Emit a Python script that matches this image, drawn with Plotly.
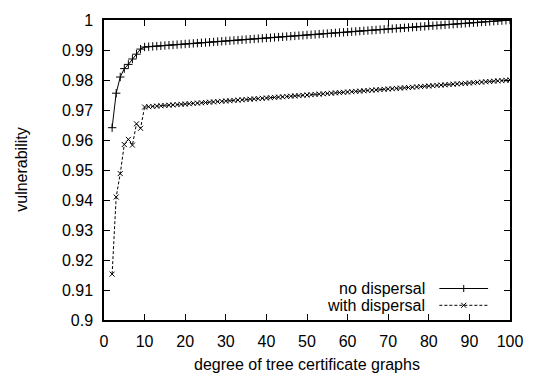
import plotly.graph_objects as go

# ---- data ----
degree = list(range(2, 101))

no_dispersal = [
    0.9641, 0.9756, 0.9810, 0.9838, 0.9852, 0.9870, 0.9886, 0.9903,
    0.9910, 0.9911, 0.9912, 0.9913, 0.9914, 0.9915, 0.9916, 0.9917, 0.9918, 0.9919,
    0.9920, 0.9921, 0.9922, 0.9923, 0.9924, 0.9925, 0.9926, 0.9927, 0.9928, 0.9929,
    0.9930, 0.9931, 0.9932, 0.9933, 0.9934, 0.9935, 0.9936, 0.9937, 0.9938, 0.9939,
    0.9940, 0.9941, 0.9942, 0.9943, 0.9944, 0.9945, 0.9946, 0.9947, 0.9948, 0.9949,
    0.9950, 0.9951, 0.9952, 0.9953, 0.9954, 0.9955, 0.9956, 0.9957, 0.9958, 0.9959,
    0.9960, 0.9961, 0.9962, 0.9963, 0.9964, 0.9965, 0.9966, 0.9967, 0.9968, 0.9969,
    0.9970, 0.9971, 0.9972, 0.9973, 0.9974, 0.9975, 0.9976, 0.9977, 0.9978, 0.9979,
    0.9980, 0.9981, 0.9982, 0.9983, 0.9984, 0.9985, 0.9986, 0.9987, 0.9988, 0.9989,
    0.9990, 0.9991, 0.9992, 0.9993, 0.9994, 0.9995, 0.9996, 0.9997, 0.9998, 0.9999,
    1.0000,
]

with_dispersal = [
    0.9153, 0.9410, 0.9488, 0.9585, 0.9602, 0.9583, 0.9654, 0.9639,
    0.9710, 0.9711, 0.9712, 0.9713, 0.9714, 0.9715, 0.9716, 0.9717, 0.9718, 0.9719,
    0.9720, 0.9721, 0.9722, 0.9723, 0.9724, 0.9725, 0.9726, 0.9727, 0.9728, 0.9729,
    0.9730, 0.9731, 0.9732, 0.9733, 0.9734, 0.9735, 0.9736, 0.9737, 0.9738, 0.9739,
    0.9740, 0.9741, 0.9742, 0.9743, 0.9744, 0.9745, 0.9746, 0.9747, 0.9748, 0.9749,
    0.9750, 0.9751, 0.9752, 0.9753, 0.9754, 0.9755, 0.9756, 0.9757, 0.9758, 0.9759,
    0.9760, 0.9761, 0.9762, 0.9763, 0.9764, 0.9765, 0.9766, 0.9767, 0.9768, 0.9769,
    0.9770, 0.9771, 0.9772, 0.9773, 0.9774, 0.9775, 0.9776, 0.9777, 0.9778, 0.9779,
    0.9780, 0.9781, 0.9782, 0.9783, 0.9784, 0.9785, 0.9786, 0.9787, 0.9788, 0.9789,
    0.9790, 0.9791, 0.9792, 0.9793, 0.9794, 0.9795, 0.9796, 0.9797, 0.9798, 0.9799,
    0.9800,
]

x_ticks = [0, 10, 20, 30, 40, 50, 60, 70, 80, 90, 100]
y_ticks = [0.9, 0.91, 0.92, 0.93, 0.94, 0.95, 0.96, 0.97, 0.98, 0.99, 1.0]
y_tick_labels = ["0.9", "0.91", "0.92", "0.93", "0.94", "0.95", "0.96", "0.97", "0.98", "0.99", "1"]

series_names = ["no dispersal", "with dispersal"]
x_title = "degree of tree certificate graphs"
y_title = "vulnerability"

FONT = "Liberation Sans, Arial, Helvetica, sans-serif"
FS = 16

fig = go.Figure()
fig.add_trace(go.Scatter(
    x=degree, y=no_dispersal, mode="lines+markers", name=series_names[0],
    line=dict(color="black", width=1),
    marker=dict(symbol="cross-thin", size=6, line=dict(color="black", width=1)),
    showlegend=False,
))
fig.add_trace(go.Scatter(
    x=degree, y=with_dispersal, mode="lines+markers", name=series_names[1],
    line=dict(color="black", width=1, dash="3px,2px"),
    marker=dict(symbol="x-thin", size=5, line=dict(color="black", width=1)),
    showlegend=False,
))

# legend key samples on an overlay axis spanning the plot area (0..1)
key_y = [0.105, 0.049]
key_dash = ["solid", "3px,2px"]
key_sym = ["cross-thin", "x-thin"]
key_size = [5, 5]
for i in range(2):
    fig.add_trace(go.Scatter(
        x=[0.826, 0.946], y=[key_y[i], key_y[i]], mode="lines",
        line=dict(color="black", width=1, dash=key_dash[i]),
        xaxis="x2", yaxis="y2", showlegend=False, hoverinfo="skip",
    ))
    fig.add_trace(go.Scatter(
        x=[0.886], y=[key_y[i]], mode="markers",
        marker=dict(symbol=key_sym[i], size=key_size[i], line=dict(color="black", width=1)),
        xaxis="x2", yaxis="y2", showlegend=False, hoverinfo="skip",
    ))
    fig.add_annotation(
        x=0.796, y=key_y[i], xref="paper", yref="paper", text=series_names[i],
        showarrow=False, xanchor="right", yanchor="middle",
        font=dict(family=FONT, size=FS, color="black"),
    )

# axis titles
fig.add_annotation(
    x=0.5, y=-0.147, xref="paper", yref="paper", text=x_title,
    showarrow=False, xanchor="center", yanchor="middle",
    font=dict(family=FONT, size=FS, color="black"),
)
fig.add_annotation(
    x=-0.205, y=0.5, xref="paper", yref="paper", text=y_title, textangle=-90,
    showarrow=False, xanchor="center", yanchor="middle",
    font=dict(family=FONT, size=FS, color="black"),
)

fig.update_layout(
    width=535, height=379,
    margin=dict(l=104, r=17, t=13, b=59),
    paper_bgcolor="white", plot_bgcolor="white",
    font=dict(family=FONT, size=FS, color="black"),
    xaxis=dict(
        range=[0, 100], tickvals=x_ticks, ticks="inside", ticklen=6, tickwidth=1,
        tickcolor="black", showline=True, linecolor="black", linewidth=1.5,
        mirror="allticks", showgrid=False, zeroline=False,
        tickfont=dict(family=FONT, size=FS), ticklabelstandoff=6,
    ),
    yaxis=dict(
        range=[0.9, 1.0], tickvals=y_ticks, ticktext=y_tick_labels, ticks="inside",
        ticklen=6, tickwidth=1, tickcolor="black", showline=True, linecolor="black",
        linewidth=1.5, mirror="allticks", showgrid=False, zeroline=False,
        tickfont=dict(family=FONT, size=FS), ticklabelstandoff=6,
    ),
    xaxis2=dict(range=[0, 1], overlaying="x", visible=False, fixedrange=True),
    yaxis2=dict(range=[0, 1], overlaying="y", visible=False, fixedrange=True),
)

fig.write_html("out.html")
